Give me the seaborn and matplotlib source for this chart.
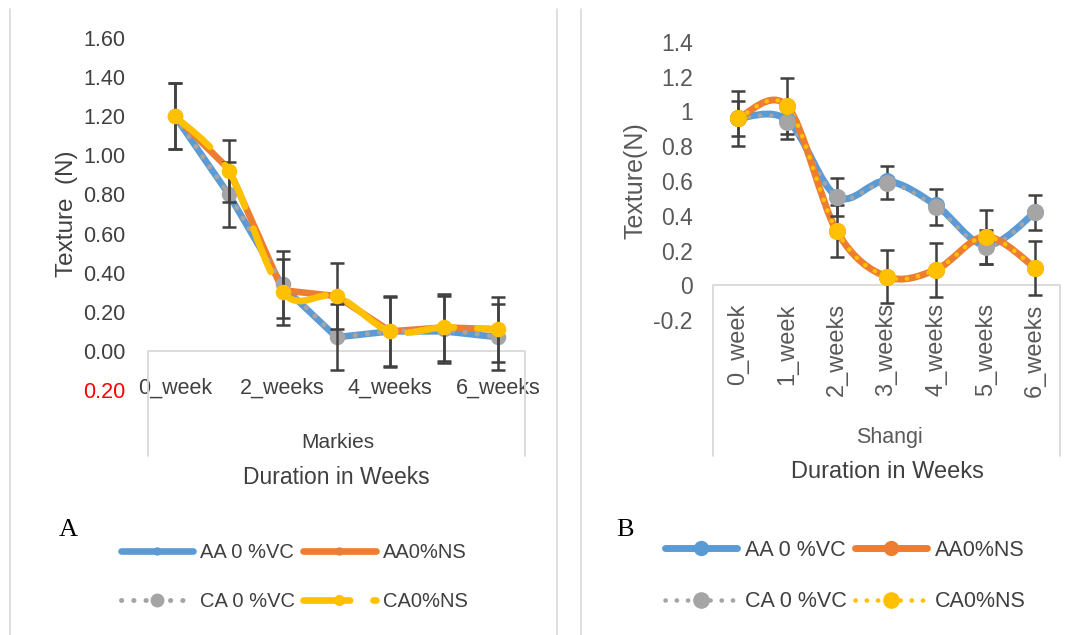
import numpy as np
import matplotlib
matplotlib.use("Agg")
import matplotlib.pyplot as plt
import seaborn as sns
from matplotlib.path import Path
from matplotlib.patches import PathPatch
from matplotlib.lines import Line2D

# categories
weeks = ["0_week", "1_week", "2_weeks", "3_weeks", "4_weeks", "5_weeks", "6_weeks"]
series_labels = ["AA 0 %VC", "AA0%NS", "CA 0 %VC", "CA0%NS"]

# Markies (panel A)
markies_aa_vc = [1.20, 0.80, 0.33, 0.07, 0.10, 0.10, 0.07]
markies_aa_ns = [1.20, 0.93, 0.31, 0.28, 0.10, 0.12, 0.11]
markies_ca_vc = [1.20, 0.80, 0.34, 0.07, 0.10, 0.11, 0.07]
markies_ca_ns = [1.20, 0.92, 0.30, 0.28, 0.10, 0.12, 0.11]
markies_err_vc = [0.17, 0.165, 0.17, 0.17, 0.18, 0.17, 0.17]
markies_err_ns = [0.17, 0.16, 0.17, 0.17, 0.175, 0.17, 0.165]

# Shangi (panel B)
shangi_aa_vc = [0.96, 0.95, 0.51, 0.60, 0.46, 0.23, 0.42]
shangi_ca_vc = [0.96, 0.94, 0.51, 0.59, 0.45, 0.22, 0.42]
shangi_aa_ns = [0.96, 1.03, 0.31, 0.05, 0.09, 0.28, 0.10]
shangi_ca_ns = [0.96, 1.03, 0.31, 0.05, 0.09, 0.28, 0.10]
shangi_err_vc = [0.10, 0.10, 0.11, 0.095, 0.105, 0.10, 0.10]
shangi_err_ns = [0.16, 0.16, 0.15, 0.155, 0.155, 0.155, 0.155]

sns.set_style("white")
plt.rcParams["font.family"] = ["Liberation Sans", "DejaVu Sans"]

BLUE, ORANGE, GRAY, YELLOW = "#5B9BD5", "#ED7D31", "#A5A5A5", "#FFC000"
ERR = "#404040"
FRAME = "#D9D9D9"
DOT = (0, (0.05, 2.4))
DASH = (0, (7, 3.5))
W, H = 1075, 635

x = np.arange(len(weeks))


def px_box(l, t, r, b):
    return [l / W, 1 - b / H, (r - l) / W, (b - t) / H]


def smooth_path(xs, ys):
    # excel style smoothed line (catmull-rom as bezier)
    pts = np.column_stack([xs, ys]).astype(float)
    n = len(pts)
    verts = [pts[0]]
    codes = [Path.MOVETO]
    for i in range(n - 1):
        p0 = pts[max(i - 1, 0)]
        p1 = pts[i]
        p2 = pts[i + 1]
        p3 = pts[min(i + 2, n - 1)]
        verts += [p1 + (p2 - p0) / 6, p2 - (p3 - p1) / 6, p2]
        codes += [Path.CURVE4] * 3
    return Path(verts, codes)


def add_curve(ax, ys, color, lw, ls="-", z=2):
    ax.add_patch(PathPatch(smooth_path(x, ys), fill=False, edgecolor=color, lw=lw,
                           linestyle=ls, capstyle="round", joinstyle="round", zorder=z))


fig = plt.figure(figsize=(10.75, 6.35), dpi=100)
ax1 = fig.add_axes(px_box(148, 38, 525, 390))
ax2 = fig.add_axes(px_box(713, 42, 1060, 320))

# ---- panel A : Markies
sns.lineplot(x=x, y=markies_aa_vc, ax=ax1, color=BLUE, lw=4.8, solid_capstyle="round",
             marker="o", markersize=5, markeredgewidth=0, sort=False, zorder=2)
sns.lineplot(x=x, y=markies_aa_ns, ax=ax1, color=ORANGE, lw=4.8, solid_capstyle="round",
             marker="o", markersize=5, markeredgewidth=0, sort=False, zorder=3)
sns.lineplot(x=x, y=markies_ca_vc, ax=ax1, color=GRAY, lw=3.6, linestyle=DOT,
             dash_capstyle="round", sort=False, zorder=4)
sns.scatterplot(x=x, y=markies_ca_vc, ax=ax1, color=GRAY, s=125, linewidth=0, zorder=4.5)
ax1.errorbar(x, markies_ca_vc, yerr=markies_err_vc, fmt="none", ecolor=ERR,
             elinewidth=1.8, capsize=5, capthick=1.8, zorder=5)
ax1.errorbar(x, markies_ca_ns, yerr=markies_err_ns, fmt="none", ecolor=ERR,
             elinewidth=1.8, capsize=5, capthick=1.8, zorder=5)
add_curve(ax1, markies_ca_ns, YELLOW, 4.8, DASH, z=6)
sns.scatterplot(x=x, y=markies_ca_ns, ax=ax1, color=YELLOW, s=125, linewidth=0, zorder=6.5)

ax1.set_ylim(-0.2, 1.6)
yt1 = np.round(np.arange(-0.2, 1.61, 0.2), 2)
ax1.set_yticks(yt1)
ax1.set_yticklabels([f"{abs(v):.2f}" for v in yt1])
ax1.set_xticks(x[::2])
ax1.set_xticklabels(weeks[::2])
ax1.tick_params(axis="y", pad=16.5, labelsize=15.5, labelcolor="#404040")
ax1.tick_params(axis="x", pad=-9, labelsize=15.5, labelcolor="#404040")
ax1.get_yticklabels()[0].set_color("red")
ax1.set_ylabel("Texture  (N)", fontsize=17.5, color="#404040")
ax1.yaxis.set_label_coords(-0.185, 0.5)

# ---- panel B : Shangi
add_curve(ax2, shangi_aa_vc, BLUE, 5.0, z=2)
add_curve(ax2, shangi_ca_vc, GRAY, 3.3, DOT, z=2.5)
add_curve(ax2, shangi_aa_ns, ORANGE, 5.0, z=3)
add_curve(ax2, shangi_ca_ns, YELLOW, 3.3, DOT, z=3.5)
ax2.errorbar(x, shangi_ca_vc, yerr=shangi_err_vc, fmt="none", ecolor=ERR,
             elinewidth=1.8, capsize=5, capthick=1.8, zorder=4)
ax2.errorbar(x, shangi_ca_ns, yerr=shangi_err_ns, fmt="none", ecolor=ERR,
             elinewidth=1.8, capsize=5, capthick=1.8, zorder=4)
sns.scatterplot(x=x, y=shangi_aa_vc, ax=ax2, color=BLUE, s=150, linewidth=0, zorder=4.2)
sns.scatterplot(x=x, y=shangi_ca_vc, ax=ax2, color=GRAY, s=150, linewidth=0, zorder=4.5)
sns.scatterplot(x=x, y=shangi_aa_ns, ax=ax2, color=ORANGE, s=150, linewidth=0, zorder=4.6)
sns.scatterplot(x=x, y=shangi_ca_ns, ax=ax2, color=YELLOW, s=150, linewidth=0, zorder=4.7)

ax2.set_ylim(-0.2, 1.4)
yt2 = np.round(np.arange(-0.2, 1.41, 0.2), 1)
ax2.set_yticks(yt2)
ax2.set_yticklabels([f"{v:g}" for v in yt2])
ax2.set_xticks(x)
ax2.set_xticklabels(weeks, rotation=90, va="top")
ax2.tick_params(axis="y", pad=14.5, labelsize=16.5, labelcolor="#595959")
ax2.tick_params(axis="x", pad=-12, labelsize=17, labelcolor="#595959")
ax2.set_ylabel("Texture(N)", fontsize=18, color="#595959")
ax2.yaxis.set_label_coords(-0.19, 0.5)

# axis frames (excel category box)
for ax, low in ((ax1, -0.535), (ax2, -0.98)):
    sns.despine(ax=ax, left=True, bottom=True)
    ax.set_xlim(-0.5, 6.5)
    ax.set_xlabel("")
    ax.tick_params(length=0)
    ax.patch.set_alpha(0)
    ax.axhline(0, color=FRAME, lw=1.3, zorder=1)
    for xv in (-0.5, 6.5):
        ax.plot([xv, xv], [0, low], color=FRAME, lw=1.3, clip_on=False, zorder=1)

# panel borders
for xp in (10, 557, 581):
    fig.add_artist(Line2D([xp / W, xp / W], [1 - 9 / H, 0], transform=fig.transFigure,
                          color=FRAME, lw=1.2))


def ftext(px, py, s, **kw):
    fig.text(px / W, 1 - py / H, s, ha="center", va="center", **kw)


ftext(338, 443, "Markies", fontsize=15, color="#404040")
ftext(336, 478, "Duration in Weeks", fontsize=16.5, color="#404040")
ftext(889, 438, "Shangi", fontsize=15.5, color="#595959")
ftext(887, 472, "Duration in Weeks", fontsize=17, color="#404040")
ftext(68, 530, "A", fontsize=19, family="Liberation Serif", color="black")
ftext(625, 530, "B", fontsize=19, family="Liberation Serif", color="black")

# legends
left_handles = [
    Line2D([], [], color=BLUE, lw=4.8, marker="o", ms=6, mew=0, solid_capstyle="round"),
    Line2D([], [], color=GRAY, lw=3.6, ls=DOT, dash_capstyle="round", marker="o", ms=10, mew=0),
    Line2D([], [], color=ORANGE, lw=4.8, marker="o", ms=6, mew=0, solid_capstyle="round"),
    Line2D([], [], color=YELLOW, lw=4.8, ls=DASH, dash_capstyle="round", marker="o", ms=8, mew=0),
]
right_handles = [
    Line2D([], [], color=BLUE, lw=5.0, marker="o", ms=11, mew=0, solid_capstyle="round"),
    Line2D([], [], color=GRAY, lw=3.3, ls=DOT, dash_capstyle="round", marker="o", ms=12, mew=0),
    Line2D([], [], color=ORANGE, lw=5.0, marker="o", ms=11, mew=0, solid_capstyle="round"),
    Line2D([], [], color=YELLOW, lw=3.3, ls=DOT, dash_capstyle="round", marker="o", ms=12, mew=0),
]
order = [series_labels[0], series_labels[2], series_labels[1], series_labels[3]]
legend_specs = [
    (left_handles, 121, 543, 14.5, 1.5),
    (right_handles, 665, 540, 15.5, 1.4),
]
for handles, lx, ly, fs, spacing in legend_specs:
    fig.legend(handles, order, ncol=2, loc="upper left", bbox_to_anchor=(lx / W, 1 - ly / H),
               frameon=False, prop={"size": fs}, labelcolor="#404040",
               handlelength=52 / fs, handletextpad=0.35, columnspacing=0.4,
               labelspacing=spacing, borderpad=0, borderaxespad=0)

fig.savefig("out.png", dpi=100)
